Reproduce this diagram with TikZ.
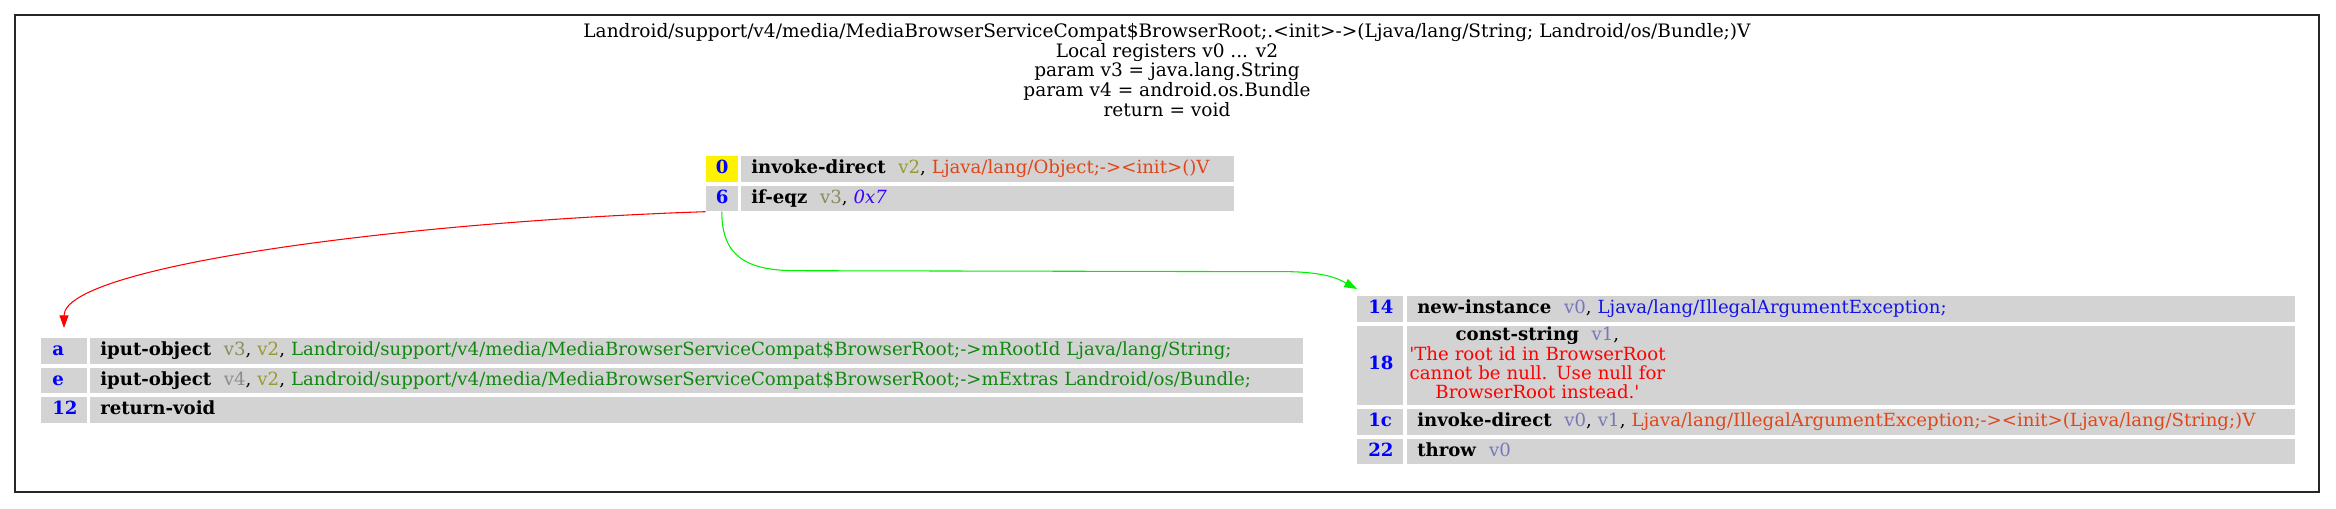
\documentclass[tikz,border=0pt]{standalone}
\usepackage{fontspec}
\setmainfont{DejaVu Serif}
\usetikzlibrary{arrows.meta}

\definecolor{cellgray}{HTML}{D3D3D3}
\definecolor{numblue}{HTML}{0000FF}
\definecolor{regvtwo}{HTML}{999933}
\definecolor{regvthree}{HTML}{8A8A5C}
\definecolor{regvfour}{HTML}{8C8C8C}
\definecolor{regslate}{HTML}{7777BB}
\definecolor{methred}{HTML}{E0461A}
\definecolor{typeblue}{HTML}{1414E6}
\definecolor{fieldgreen}{HTML}{118811}
\definecolor{strred}{HTML}{FF0000}
\definecolor{litblue}{HTML}{3C00FF}
\definecolor{edgegreen}{HTML}{00EE00}

% opcode with the wide gap after it
\newcommand{\op}[1]{\textbf{#1}\hspace{0.7em}}

\begin{document}
\begin{tikzpicture}[
    x=0.75pt, y=-0.75pt,
    >={Triangle[length=9.5pt, width=6.7pt]},
    every node/.style={font=\fontsize{13.6}{14.8}\selectfont, inner ysep=0pt},
    cell/.style={fill=cellgray, anchor=north west, align=left,
        minimum height=19.1pt, text height=9.4pt, text depth=2.8pt},
    numcell/.style={cell, inner xsep=8.25pt, text width=17.6pt,
        text=numblue, font=\fontsize{13.6}{14.8}\selectfont\bfseries},
    topnum/.style={numcell, inner xsep=7.5pt, text width=9pt},
    inscell/.style={cell, inner xsep=7.5pt},
    frame/.style={draw=black!85, line width=0.9pt},
    fedge/.style={->, red, line width=0.8pt},
    tedge/.style={->, edgegreen, line width=0.8pt}
]
\useasboundingbox (0,0) rectangle (2336,509);

% --- Rahmen und Titel ---
\draw[frame] (15,15) rectangle (2319,492);
\node[anchor=north, align=center, inner sep=0pt, font=\fontsize{13.9}{14.8}\selectfont] (title) at (1167,23) {
    Landroid/support/v4/media/MediaBrowserServiceCompat\$BrowserRoot;.<init>->(Ljava/lang/String; Landroid/os/Bundle;)V\\
    Local registers v0 ... v2\\
    param v3 = java.lang.String\\
    param v4 = android.os.Bundle\\
    return = void};

% --- Block 0 ---
\node[topnum, fill=yellow] (n0) at (705.5,156) {0};
\node[inscell, text width=354.75pt] (i0) at (741,156)
    {\op{invoke-direct}\textcolor{regvtwo}{v2}, \textcolor{methred}{Ljava/lang/Object;-><init>()V}};
\node[topnum] (n6) at (705.5,185.7) {6};
\node[inscell, text width=354.75pt] (i6) at (741,185.7)
    {\op{if-eqz}\textcolor{regvthree}{v3}, \textcolor{litblue}{\itshape 0x7}};

% --- Block a ---
\node[numcell] (na) at (41,338) {a};
\node[inscell, text width=894.4pt] (ia) at (90,338)
    {\op{iput-object}\textcolor{regvthree}{v3}, \textcolor{regvtwo}{v2}, \textcolor{fieldgreen}{Landroid/support/v4/media/MediaBrowserServiceCompat\$BrowserRoot;->mRootId Ljava/lang/String;}};
\node[numcell] (ne) at (41,367.7) {e};
\node[inscell, text width=894.4pt] (ie) at (90,367.7)
    {\op{iput-object}\textcolor{regvfour}{v4}, \textcolor{regvtwo}{v2}, \textcolor{fieldgreen}{Landroid/support/v4/media/MediaBrowserServiceCompat\$BrowserRoot;->mExtras Landroid/os/Bundle;}};
\node[numcell] (n12) at (41,397) {12};
\node[inscell, text width=894.4pt] (i12) at (90,397) {\textbf{return-void}};

% --- Block 14 ---
\node[numcell] (n14) at (1357,296) {14};
\node[inscell, text width=651pt] (i14) at (1407,296)
    {\op{new-instance}\textcolor{regslate}{v0}, \textcolor{typeblue}{Ljava/lang/IllegalArgumentException;}};
\node[numcell, minimum height=59.6pt] (n18) at (1357,325.5) {18};
\node[cell, inner xsep=1.5pt, text width=663pt, minimum height=59.6pt,
    text height=, text depth=] (i18) at (1407,325.5)
    {\fontsize{13.6}{13.7}\selectfont\begin{tabular}{@{}c@{}}
     \op{const-string}\textcolor{regslate}{v1},\\
     \textcolor{strred}{\textquotesingle The root id in BrowserRoot}\\
     \textcolor{strred}{cannot be null. Use null for}\\
     \textcolor{strred}{BrowserRoot instead.\textquotesingle}
     \end{tabular}};
\node[numcell] (n1c) at (1357,409) {1c};
\node[inscell, text width=651pt] (i1c) at (1407,409)
    {\op{invoke-direct}\textcolor{regslate}{v0}, \textcolor{regslate}{v1}, \textcolor{methred}{Ljava/lang/IllegalArgumentException;-><init>(Ljava/lang/String;)V}};
\node[numcell] (n22) at (1357,438.7) {22};
\node[inscell, text width=651pt] (i22) at (1407,438.7)
    {\op{throw}\textcolor{regslate}{v0}};

% --- Kanten ---
\draw[fedge] (n6.south west) .. controls +(-300,10) and +(0,-62) .. ([yshift=7.5pt]na.north);
\draw[tedge] (n6.south) .. controls +(0,45) and +(-50,0) .. ++(75,59)
    -- ++(494,1) .. controls +(40,1) and +(-15,-8) .. ([yshift=5.25pt]n14.north west);

\end{tikzpicture}
\end{document}
